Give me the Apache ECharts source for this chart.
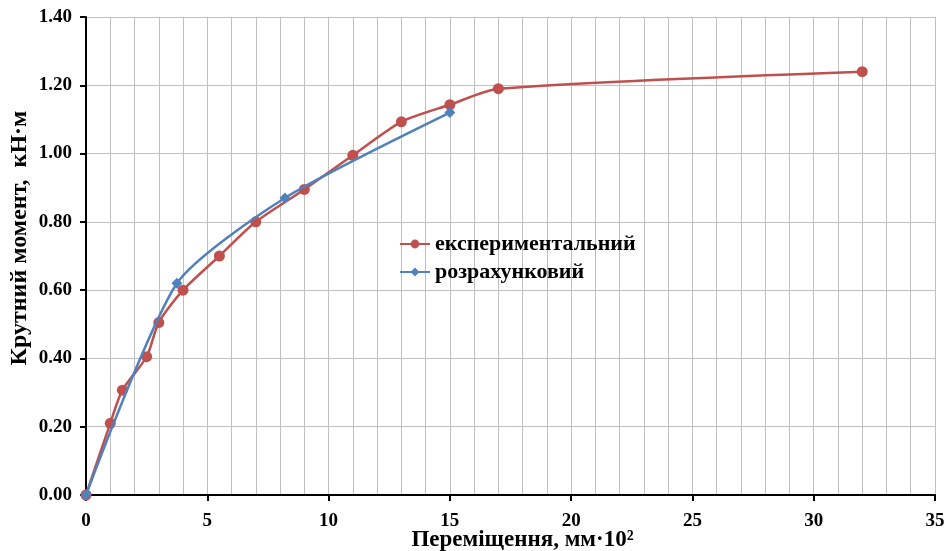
<!DOCTYPE html>
<html><head><meta charset="utf-8">
<script src="https://cdn.jsdelivr.net/npm/echarts@6/dist/echarts.min.js"></script>
<style>html,body{margin:0;padding:0;background:#fff}#c{width:949px;height:551px}</style>
</head><body><div id="c"></div>
<script>
const expX = [0, 1, 1.5, 2.5, 3, 4, 5.5, 7, 9, 11, 13, 15, 17, 32];
const expY = [0, 0.21, 0.307, 0.405, 0.505, 0.60, 0.70, 0.80, 0.895, 0.995, 1.093, 1.143, 1.19, 1.24];
const calcX = [0, 3.75, 8.2, 15];
const calcY = [0, 0.62, 0.87, 1.12];
const seriesNames = ['експериментальний', 'розрахунковий'];
const xTitle = 'Переміщення, мм·10²';
const yTitle = 'Крутний момент,  кН·м';

const font = 'Liberation Serif';
const chart = echarts.init(document.getElementById('c'));
chart.setOption({
  animation: false,
  backgroundColor: '#fff',
  grid: { left: 86, right: 14, top: 17, bottom: 56, containLabel: false, outerBoundsMode: 'none' },
  legend: {
    orient: 'vertical', left: 394, top: 228, itemGap: 6, itemWidth: 30, itemHeight: 11,
    textStyle: { fontFamily: font, fontWeight: 'bold', fontSize: 22, color: '#000' },
    data: seriesNames
  },
  xAxis: {
    type: 'value', min: 0, max: 35, interval: 5,
    name: xTitle, nameLocation: 'middle', nameGap: 34, nameMoveOverlap: false,
    nameTextStyle: { fontFamily: font, fontWeight: 'bold', fontSize: 23, color: '#000', padding: [0, 0, 0, 24] },
    axisLine: { show: true, lineStyle: { color: '#000', width: 2 } },
    axisTick: { show: true, length: 6, lineStyle: { color: '#000', width: 2 } },
    axisLabel: { fontFamily: font, fontWeight: 'bold', fontSize: 19, color: '#000', margin: 17 },
    splitLine: { show: true, lineStyle: { color: '#bfbfbf', width: 1 } },
    minorTick: { show: false, splitNumber: 5 },
    minorSplitLine: { show: true, lineStyle: { color: '#bfbfbf', width: 1 } }
  },
  yAxis: {
    type: 'value', min: 0, max: 1.4, interval: 0.2,
    name: yTitle, nameLocation: 'middle', nameGap: 54, nameMoveOverlap: false,
    nameTextStyle: { fontFamily: font, fontWeight: 'bold', fontSize: 24, color: '#000', padding: [0, 0, 0, 36] },
    axisLine: { show: true, lineStyle: { color: '#000', width: 2 } },
    axisTick: { show: true, length: 6, lineStyle: { color: '#000', width: 2 } },
    axisLabel: { fontFamily: font, fontWeight: 'bold', fontSize: 19, color: '#000', margin: 14,
      formatter: v => v.toFixed(2) },
    splitLine: { show: true, lineStyle: { color: '#bfbfbf', width: 1 } }
  },
  series: [
    {
      name: seriesNames[0], type: 'line', smooth: 0.25,
      data: expX.map((x, i) => [x, expY[i]]),
      symbol: 'circle', symbolSize: 11,
      lineStyle: { color: '#c0504d', width: 2.5 },
      itemStyle: { color: '#c0504d' }, z: 2
    },
    {
      name: seriesNames[1], type: 'line', smooth: 0.22,
      data: calcX.map((x, i) => [x, calcY[i]]),
      symbol: 'diamond', symbolSize: 11,
      lineStyle: { color: '#4f81bd', width: 2.5 },
      itemStyle: { color: '#4f81bd' }, z: 3
    }
  ]
});
</script></body></html>
